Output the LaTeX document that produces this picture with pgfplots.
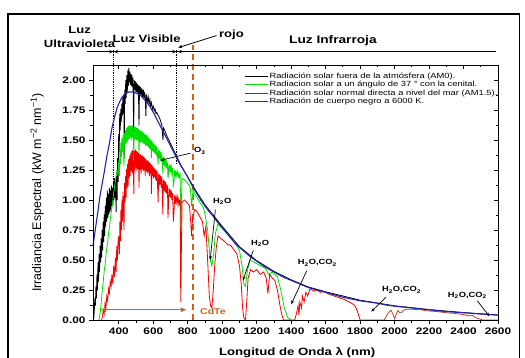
\documentclass[border=0pt]{standalone}
\usepackage{fontspec}
\setmainfont{Liberation Sans}
\newfontfamily\wide[FakeStretch=1.25]{Liberation Sans}
\usepackage{pgfplots}
\pgfplotsset{compat=1.18}
\usetikzlibrary{arrows.meta}
\definecolor{cgreen}{HTML}{00E000}
\definecolor{cred}{HTML}{F50000}
\definecolor{cbrown}{HTML}{B5462A}
\definecolor{cblue}{HTML}{2424B0}
\definecolor{corange}{HTML}{D0601E}
\begin{document}
\begin{tikzpicture}
\useasboundingbox (0,0) rectangle (525bp,358bp);
\draw[line width=1.2bp] (8bp,-20bp) rectangle (519.5bp,344bp);
\begin{axis}[
  at={(93bp,38bp)}, anchor=south west, scale only axis,
  width=405bp, height=255bp,
  xmin=250, xmax=2600, ymin=0, ymax=2.125,
  clip=false,
  xtick={400,600,800,1000,1200,1400,1600,1800,2000,2200,2400,2600},
  ytick={0,0.25,0.5,0.75,1,1.25,1.5,1.75,2},
  minor x tick num=1, minor y tick num=1,
  tick align=outside, xtick pos=left, ytick pos=left,
  major tick length=4bp, minor tick length=2.5bp,
  axis line style={line width=0.9bp},
  tick style={line width=0.8bp, black},
  /pgf/number format/assume math mode=true,
  ticklabel style={font=\wide\bfseries\fontsize{9.5}{10}\selectfont},
  y tick label style={/pgf/number format/.cd, fixed, fixed zerofill, precision=2},
  x tick label style={/pgf/number format/1000 sep={}},
  xlabel={Longitud de Onda λ (nm)},
  ylabel={Irradiancia Espectral (kW m\textsuperscript{−2} nm\textsuperscript{−1})},
  every axis x label/.style={at={(axis description cs:0.504,-0.129)}, anchor=center, font=\wide\bfseries\fontsize{10.6}{12}\selectfont},
  every axis y label/.style={at={(axis description cs:-0.138,0.5)}, rotate=90, anchor=center, font=\fontsize{12.5}{13}\selectfont},
  legend style={draw=none, fill=none, at={(axis cs:1108,2.085)}, anchor=north west,
    font=\wide\fontsize{7.5}{7.5}\selectfont, row sep=0.3bp, column sep=1bp,
    nodes={inner sep=0.5bp, text height=5.6bp, text depth=1.6bp}},
  legend cell align=left,
  legend image code/.code={\draw[#1, line width=1bp] (0bp,0bp) -- (23bp,0bp);},
]
% region marks
\draw[densely dotted, line width=0.8bp] (axis cs:370,2.25) -- (axis cs:370,1.0);
\draw[densely dotted, line width=0.8bp] (axis cs:735,2.25) -- (axis cs:735,1.3);
\draw[corange, line width=1.5bp, dash pattern=on 6bp off 4bp] (axis cs:830,0) -- (axis cs:830,2.29);

% AM0
\addplot[black, line width=0.8bp] coordinates {
(255,0.02)(258,0.10)(261,0.18)(264,0.12)(267,0.28)(270,0.18)(273,0.38)(276,0.25)
(279,0.48)(282,0.32)(285,0.55)(288,0.40)(291,0.62)(294,0.48)(297,0.68)(300,0.52)
(303,0.75)(306,0.58)(309,0.82)(312,0.65)(315,0.88)(318,0.70)(321,0.95)(324,0.78)
(327,1.02)(330,0.82)(333,1.08)(336,0.85)(339,1.05)(342,0.88)(345,1.10)(348,0.90)
(351,1.08)(354,0.92)(357,1.12)(360,0.95)(363,1.10)(366,0.96)(369,1.15)(372,1.00)
(375,1.18)(378,1.02)(381,1.15)(384,0.90)(387,1.20)(390,1.00)(393,1.35)(396,1.15)
(399,1.55)(402,1.40)(405,1.72)(408,1.58)(411,1.76)(414,1.65)(417,1.80)(420,1.70)
(423,1.86)(426,1.72)(429,1.88)(431,1.35)(434,1.92)(437,1.80)(440,2.00)(443,1.85)
(446,2.04)(449,1.90)(452,2.08)(455,1.95)(458,2.10)(461,1.98)(464,2.07)(467,1.96)
(470,2.05)(473,1.95)(476,2.04)(479,1.94)(482,2.02)(486,1.55)(489,2.00)(492,1.92)
(495,1.99)(498,1.90)(501,1.98)(504,1.90)(507,1.97)(510,1.89)(513,1.96)(517,1.62)
(520,1.95)(523,1.88)(526,1.94)(530,1.87)(534,1.93)(538,1.86)(542,1.92)(546,1.85)
(550,1.90)(554,1.82)(557,1.70)(560,1.88)(565,1.82)(570,1.86)(575,1.80)(580,1.84)
(585,1.78)(590,1.81)(595,1.76)(600,1.78)(605,1.74)(610,1.76)(615,1.72)(620,1.73)
(630,1.70)(640,1.67)(650,1.62)(656,1.50)(660,1.60)(680,1.53)(700,1.47)(720,1.41)
(740,1.35)(760,1.29)(780,1.24)(800,1.19)(850,1.07)(900,0.96)(950,0.87)(1000,0.78)
(1100,0.61)(1200,0.495)(1300,0.405)(1400,0.335)(1500,0.275)(1600,0.235)(1800,0.165)
(2000,0.118)(2200,0.087)(2400,0.062)(2600,0.042)};
\addlegendentry{Radiación solar fuera de la atmósfera (AM0).}

% global tilt
\addplot[cgreen, line width=0.8bp] coordinates {
(285,0.00)(292,0.06)(298,0.15)(304,0.25)(310,0.33)(316,0.42)(322,0.48)(328,0.58)
(334,0.63)(340,0.72)(346,0.78)(352,0.86)(358,0.92)(364,0.98)(370,1.06)(376,1.12)
(382,1.18)(388,1.24)(394,1.22)(397,1.28)
(400,1.33)(403,1.20)(406,1.42)(409,1.30)(412,1.48)(415,1.36)(418,1.52)(421,1.40)
(424,1.54)(427,1.42)(430,1.28)(433,1.56)(436,1.45)(439,1.58)(442,1.47)(445,1.60)
(448,1.48)(451,1.61)(454,1.50)(457,1.62)(460,1.51)(463,1.62)(466,1.52)(469,1.62)
(472,1.50)(475,1.62)(478,1.52)(481,1.62)(484,1.50)(487,1.38)(490,1.61)(493,1.51)
(496,1.61)(499,1.50)(502,1.60)(505,1.50)(508,1.60)(511,1.49)(514,1.59)(517,1.38)
(520,1.58)(523,1.48)(526,1.58)(529,1.48)(532,1.57)(535,1.48)(538,1.57)(541,1.47)
(544,1.56)(547,1.47)(550,1.55)(553,1.45)(556,1.54)(559,1.46)(562,1.54)(565,1.45)
(568,1.53)(571,1.44)(574,1.52)(577,1.43)(580,1.51)(583,1.42)(586,1.50)(589,1.35)
(592,1.49)(595,1.41)(598,1.48)(601,1.40)(604,1.47)(607,1.39)(610,1.46)(613,1.38)
(616,1.45)(619,1.37)(622,1.44)(625,1.35)(628,1.30)(631,1.42)(634,1.35)(637,1.41)
(640,1.33)(643,1.40)(646,1.32)(649,1.38)(652,1.31)(655,1.22)(658,1.36)(661,1.29)
(664,1.35)(667,1.28)(670,1.34)(673,1.27)(676,1.33)(679,1.26)(682,1.31)(685,1.18)
(688,1.22)(691,1.30)(694,1.24)(697,1.29)(700,1.23)(704,1.28)(708,1.22)(712,1.27)
(716,1.12)(720,1.15)(724,1.25)(728,1.20)(732,1.24)(736,1.20)(740,1.23)(744,1.19)
(748,1.22)(752,1.19)(756,1.21)(760,0.70)(766,1.18)(780,1.17)
(800,1.14)(815,1.10)(822,0.95)(830,1.08)(850,1.03)(870,0.98)(890,0.94)(900,0.88)
(915,0.75)(930,0.50)(940,0.45)(950,0.55)(960,0.72)(975,0.80)(1000,0.76)(1020,0.73)
(1050,0.68)(1080,0.63)(1100,0.58)(1115,0.45)(1125,0.30)(1135,0.28)(1145,0.40)
(1160,0.50)(1200,0.47)(1250,0.43)(1270,0.38)(1290,0.40)(1320,0.36)(1340,0.25)
(1360,0.10)(1380,0.02)(1400,0.00)};
\addlegendentry{Radiacion solar a un ángulo de 37 ° con la cenital.}

% direct normal
\addplot[cred, line width=0.8bp] coordinates {
(300,0.00)(305,0.03)(310,0.08)(315,0.05)(320,0.14)(325,0.10)(330,0.20)(335,0.16)
(340,0.26)(345,0.22)(350,0.32)(355,0.28)(360,0.38)(365,0.30)(370,0.45)(375,0.36)
(380,0.52)(384,0.40)(388,0.62)(392,0.50)(396,0.66)
(400,0.70)(403,0.55)(406,0.82)(409,0.66)(412,0.92)(415,0.75)(418,1.00)(421,0.82)
(424,1.07)(427,0.90)(430,0.75)(433,1.14)(436,0.98)(439,1.20)(442,1.02)(445,1.26)
(448,1.10)(451,1.30)(454,1.12)(457,1.34)(460,1.18)(463,1.37)(466,1.20)(469,1.39)
(472,1.24)(475,1.41)(478,1.22)(481,1.42)(484,1.26)(487,1.05)(490,1.41)(493,1.25)
(496,1.42)(499,1.27)(502,1.41)(505,1.24)(508,1.40)(511,1.26)(514,1.39)(517,1.10)
(520,1.38)(523,1.25)(526,1.38)(529,1.22)(532,1.37)(535,1.26)(538,1.37)(541,1.24)
(544,1.36)(547,1.25)(550,1.35)(553,1.20)(556,1.34)(559,1.24)(562,1.33)(565,1.22)
(568,1.33)(571,1.23)(574,1.32)(577,1.20)(580,1.31)(583,1.22)(586,1.30)(589,1.05)
(592,1.29)(595,1.20)(598,1.28)(601,1.18)(604,1.27)(607,1.19)(610,1.26)(613,1.17)
(616,1.25)(619,1.16)(622,1.24)(625,1.10)(628,0.98)(631,1.22)(634,1.12)(637,1.21)
(640,1.13)(643,1.20)(646,1.10)(649,1.19)(652,1.10)(655,0.88)(658,1.17)(661,1.08)
(664,1.16)(667,1.07)(670,1.15)(673,1.06)(676,1.13)(679,1.05)(682,1.12)(685,0.85)
(688,0.95)(691,1.10)(694,1.03)(697,1.09)(700,1.02)(704,1.08)(708,1.00)(712,1.06)
(716,0.82)(720,0.90)(724,1.04)(728,0.97)(732,1.03)(736,0.98)(740,1.02)(744,0.96)
(748,1.01)(752,0.97)(756,1.00)(759,0.15)(763,0.60)(767,0.98)(780,1.00)(795,0.98)
(810,0.95)(818,0.80)(822,0.70)(828,0.85)(840,0.92)(855,0.90)(870,0.86)(885,0.82)
(895,0.70)(905,0.78)(915,0.50)(925,0.20)(932,0.12)(940,0.10)(948,0.25)(956,0.45)
(965,0.60)(975,0.70)(990,0.68)(1010,0.66)(1030,0.63)(1050,0.62)(1070,0.58)
(1085,0.55)(1100,0.45)(1110,0.30)(1118,0.10)(1125,0.02)(1135,0.00)(1142,0.15)
(1150,0.35)(1165,0.42)(1180,0.40)(1200,0.42)(1220,0.38)(1240,0.40)(1255,0.35)
(1265,0.22)(1275,0.38)(1290,0.35)(1305,0.33)(1320,0.25)(1335,0.12)(1345,0.05)
(1355,0.00)(1420,0.00)(1430,0.05)(1440,0.12)(1445,0.04)(1450,0.15)(1460,0.10)
(1465,0.20)(1475,0.15)(1485,0.23)(1495,0.20)(1510,0.26)(1530,0.24)(1550,0.25)
(1570,0.23)(1590,0.24)(1610,0.22)(1630,0.21)(1650,0.20)(1670,0.19)(1690,0.18)
(1710,0.17)(1730,0.155)(1750,0.14)(1770,0.12)(1785,0.07)(1800,0.00)};
\addlegendentry{Radiación solar normal directa a nivel del mar (AM1.5).}
\addplot[cbrown, line width=0.8bp, forget plot] coordinates {
(1800,0.00)(1940,0.00)(1955,0.04)(1970,0.07)(1980,0.08)(1990,0.05)(2000,0.01)
(2010,0.05)(2020,0.08)(2030,0.06)(2040,0.06)(2050,0.08)(2070,0.09)(2100,0.09)
(2150,0.085)(2200,0.075)(2250,0.07)(2300,0.06)(2350,0.055)(2400,0.045)(2430,0.035)
(2450,0.04)(2470,0.02)(2490,0.01)(2510,0.00)(2600,0.00)};

% blackbody
\addplot[cblue, line width=1.1bp] coordinates {
(250,0.62)(260,0.72)(270,0.82)(280,0.92)(290,1.03)(300,1.11)(315,1.23)(330,1.36)
(345,1.47)(360,1.60)(375,1.69)(390,1.77)(405,1.82)(420,1.86)(440,1.89)(460,1.90)
(480,1.90)(500,1.89)(520,1.88)(540,1.85)(560,1.82)(580,1.78)(600,1.73)(625,1.66)
(650,1.59)(675,1.52)(700,1.45)(725,1.38)(750,1.31)(775,1.25)(800,1.19)(825,1.12)
(850,1.06)(875,1.00)(900,0.95)(925,0.90)(950,0.86)(975,0.81)(1000,0.77)(1040,0.70)
(1080,0.63)(1120,0.58)(1160,0.53)(1200,0.49)(1250,0.44)(1300,0.40)(1350,0.36)
(1400,0.33)(1450,0.30)(1500,0.27)(1550,0.25)(1600,0.23)(1650,0.21)(1700,0.19)
(1750,0.175)(1800,0.16)(1850,0.15)(1900,0.14)(1950,0.125)(2000,0.115)(2100,0.10)
(2200,0.085)(2300,0.07)(2400,0.06)(2500,0.05)(2600,0.04)};
\addlegendentry{Radiación de cuerpo negro a 6000 K.}

% top region labels
\draw[line width=1.2bp] (axis cs:213,2.236) -- (axis cs:2590,2.236);
\draw[line width=0.8bp, -{Stealth[length=4bp,width=3.5bp]}] (axis cs:320,2.236) -- (axis cs:368,2.236);
\draw[line width=0.8bp, -{Stealth[length=4bp,width=3.5bp]}] (axis cs:420,2.236) -- (axis cs:372,2.236);
\draw[line width=0.8bp, -{Stealth[length=4bp,width=3.5bp]}] (axis cs:685,2.236) -- (axis cs:733,2.236);
\draw[line width=0.8bp, -{Stealth[length=4bp,width=3.5bp]}] (axis cs:790,2.236) -- (axis cs:742,2.236);
\draw[line width=0.8bp, -{Stealth[length=4bp,width=3.5bp]}] (axis cs:967,2.37) -- (axis cs:745,2.27);
\node[font=\wide\bfseries\fontsize{10.5}{11}\selectfont] at (axis cs:172,2.417) {Luz};
\node[font=\wide\bfseries\fontsize{10.5}{11}\selectfont] at (axis cs:172,2.306) {Ultravioleta};
\node[font=\wide\bfseries\fontsize{10.5}{11}\selectfont] at (axis cs:561,2.347) {Luz Visible};
\node[font=\wide\bfseries\fontsize{10.5}{11}\selectfont] at (axis cs:1053,2.375) {rojo};
\node[font=\wide\bfseries\fontsize{11}{12}\selectfont] at (axis cs:1642,2.325) {Luz Infrarroja};

% absorption annotations
\tikzset{ann/.style={font=\wide\bfseries\fontsize{7.5}{8}\selectfont}, aarr/.style={line width=0.7bp, -{Stealth[length=4bp,width=3bp]}}}
\node[ann] at (axis cs:870,1.41) {O\textsubscript{3}};
\draw[aarr] (axis cs:815,1.39) -- (axis cs:640,1.33);
\node[ann] at (axis cs:1000,0.99) {H\textsubscript{2}O};
\draw[aarr] (axis cs:960,0.92) -- (axis cs:930,0.50);
\node[ann] at (axis cs:1220,0.64) {H\textsubscript{2}O};
\draw[aarr] (axis cs:1180,0.58) -- (axis cs:1120,0.33);
\node[ann] at (axis cs:1552,0.475) {H\textsubscript{2}O,CO\textsubscript{2}};
\draw[aarr] (axis cs:1490,0.41) -- (axis cs:1400,0.13);
\node[ann] at (axis cs:2040,0.25) {H\textsubscript{2}O,CO\textsubscript{2}};
\draw[aarr] (axis cs:1950,0.19) -- (axis cs:1865,0.07);
\node[ann] at (axis cs:2422,0.205) {H\textsubscript{2}O,CO\textsubscript{2}};
\draw[aarr] (axis cs:2480,0.16) -- (axis cs:2550,0.03);

% CdTe
\draw[corange, line width=1.3bp, {Latex[length=6bp,width=5bp]}-{Latex[length=6bp,width=5bp]}] (axis cs:290,0.085) -- (axis cs:795,0.085);
\node[corange, font=\wide\bfseries\fontsize{8.5}{9}\selectfont] at (axis cs:946,0.07) {CdTe};
\end{axis}
\begin{axis}[
  at={(93bp,38bp)}, anchor=south west, scale only axis,
  width=405bp, height=255bp,
  xmin=250, xmax=2600, ymin=0, ymax=2.125,
  xtick={400,600,800,1000,1200,1400,1600,1800,2000,2200,2400,2600},
  ytick={0,0.25,0.5,0.75,1,1.25,1.5,1.75,2},
  minor x tick num=1, minor y tick num=1,
  tick align=inside, xtick pos=right, ytick pos=right,
  major tick length=4bp, minor tick length=2.5bp,
  axis line style={line width=0.9bp},
  tick style={line width=0.8bp, black},
  xticklabels={}, yticklabels={},
]
\end{axis}
\end{tikzpicture}
\end{document}
